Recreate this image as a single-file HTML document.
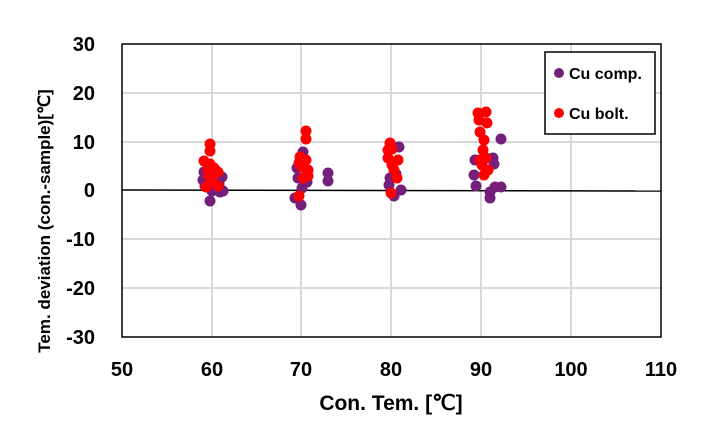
<!DOCTYPE html>
<html><head><meta charset="utf-8"><style>
html,body{margin:0;padding:0;background:#fff;width:706px;height:434px;overflow:hidden}
svg{display:block}
text{font-family:"Liberation Sans",Arial,sans-serif;font-weight:bold;fill:#000}
</style></head><body>
<svg width="706" height="434" viewBox="0 0 706 434">
<g stroke="#d9d9d9" stroke-width="2">
<line x1="212" y1="44" x2="212" y2="337"/><line x1="301" y1="44" x2="301" y2="337"/>
<line x1="391" y1="44" x2="391" y2="337"/><line x1="481" y1="44" x2="481" y2="337"/>
<line x1="571" y1="44" x2="571" y2="337"/>
<line x1="122" y1="93" x2="661" y2="93"/><line x1="122" y1="142" x2="661" y2="142"/>
<line x1="122" y1="239" x2="661" y2="239"/><line x1="122" y1="288" x2="661" y2="288"/>
</g>
<line x1="122" y1="190" x2="661" y2="191" stroke="#000" stroke-width="1.5"/>
<g fill="#74207a">
<circle cx="204" cy="172" r="5.5"/><circle cx="203" cy="180" r="5.5"/><circle cx="205" cy="186" r="5.5"/><circle cx="210" cy="201" r="5.5"/><circle cx="222" cy="177" r="5.5"/><circle cx="219" cy="184" r="5.5"/><circle cx="220" cy="192" r="5.5"/><circle cx="223" cy="191" r="5.5"/><circle cx="212" cy="191" r="5.5"/>
<circle cx="303" cy="152" r="5.5"/><circle cx="297" cy="168" r="5.5"/><circle cx="298" cy="178" r="5.5"/><circle cx="295" cy="198" r="5.5"/><circle cx="301" cy="205" r="5.5"/><circle cx="307" cy="182" r="5.5"/><circle cx="302" cy="188" r="5.5"/><circle cx="328" cy="173" r="5.5"/><circle cx="328" cy="181" r="5.5"/>
<circle cx="399" cy="147" r="5.5"/><circle cx="390" cy="178" r="5.5"/><circle cx="389" cy="185" r="5.5"/><circle cx="394" cy="196" r="5.5"/><circle cx="401" cy="190" r="5.5"/><circle cx="396" cy="174" r="5.5"/>
<circle cx="501" cy="139" r="5.5"/><circle cx="475" cy="160" r="5.5"/><circle cx="474" cy="175" r="5.5"/><circle cx="476" cy="186" r="5.5"/><circle cx="490" cy="192" r="5.5"/><circle cx="490" cy="198" r="5.5"/><circle cx="495" cy="187" r="5.5"/><circle cx="501" cy="187" r="5.5"/><circle cx="493" cy="158" r="5.5"/><circle cx="494" cy="164" r="5.5"/>
</g>
<g fill="#ff0000">
<circle cx="210" cy="144" r="5.5"/><circle cx="210" cy="151" r="5.5"/><circle cx="204" cy="161" r="5.5"/><circle cx="210" cy="164" r="5.5"/><circle cx="214" cy="168" r="5.5"/><circle cx="218" cy="172" r="5.5"/><circle cx="209" cy="176" r="5.5"/><circle cx="212" cy="181" r="5.5"/><circle cx="206" cy="187" r="5.5"/><circle cx="218" cy="186" r="5.5"/><circle cx="208" cy="170" r="5.5"/>
<circle cx="306" cy="131" r="5.5"/><circle cx="306" cy="139" r="5.5"/><circle cx="300" cy="157" r="5.5"/><circle cx="306" cy="160" r="5.5"/><circle cx="302" cy="167" r="5.5"/><circle cx="308" cy="170" r="5.5"/><circle cx="303" cy="178" r="5.5"/><circle cx="308" cy="176" r="5.5"/><circle cx="299" cy="196" r="5.5"/><circle cx="299" cy="163" r="5.5"/>
<circle cx="390" cy="143" r="5.5"/><circle cx="392" cy="149" r="5.5"/><circle cx="388" cy="158" r="5.5"/><circle cx="392" cy="165" r="5.5"/><circle cx="398" cy="160" r="5.5"/><circle cx="394" cy="170" r="5.5"/><circle cx="397" cy="178" r="5.5"/><circle cx="391" cy="193" r="5.5"/><circle cx="388" cy="150" r="5.5"/>
<circle cx="478" cy="113" r="5.5"/><circle cx="486" cy="112" r="5.5"/><circle cx="479" cy="120" r="5.5"/><circle cx="487" cy="123" r="5.5"/><circle cx="480" cy="132" r="5.5"/><circle cx="484" cy="140" r="5.5"/><circle cx="483" cy="150" r="5.5"/><circle cx="486" cy="158" r="5.5"/><circle cx="482" cy="165" r="5.5"/><circle cx="484" cy="175" r="5.5"/><circle cx="488" cy="170" r="5.5"/><circle cx="480" cy="160" r="5.5"/>
</g>
<rect x="122" y="44" width="539" height="293" fill="none" stroke="#000" stroke-width="1.5"/>
<rect x="545" y="52" width="110" height="82" fill="#fff" stroke="#000" stroke-width="1.5"/>
<circle cx="559" cy="73" r="5" fill="#74207a"/><circle cx="559" cy="113" r="5" fill="#ff0000"/>
<text x="569" y="79" font-size="16">Cu comp.</text>
<text x="569" y="119" font-size="16">Cu bolt.</text>
<g font-size="20" text-anchor="end">
<text x="95" y="51">30</text><text x="95" y="100">20</text><text x="95" y="149">10</text><text x="95" y="197">0</text>
<text x="95" y="246">-10</text><text x="95" y="295">-20</text><text x="95" y="344">-30</text>
</g>
<g font-size="20" text-anchor="middle">
<text x="122" y="376">50</text><text x="212" y="376">60</text><text x="301" y="376">70</text><text x="391" y="376">80</text>
<text x="481" y="376">90</text><text x="571" y="376">100</text><text x="661" y="376">110</text>
</g>
<text x="391" y="410" font-size="21" text-anchor="middle">Con. Tem. [℃]</text>
<text transform="translate(50,221) rotate(-90)" font-size="17" text-anchor="middle">Tem. deviation (con.-sample)[℃]</text>
</svg>
</body></html>
